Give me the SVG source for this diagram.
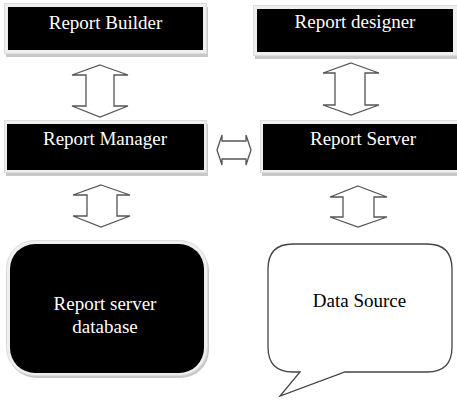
<svg xmlns="http://www.w3.org/2000/svg" width="457" height="400" viewBox="0 0 457 400">
<style>
.shadow{fill:#c8c8c8}
.frame{fill:#efefef;stroke:#dcdcdc;stroke-width:1}
.box{fill:#000}
.lbl{font-family:"Liberation Serif","Times New Roman",serif;font-size:19px;text-anchor:middle}
.w{fill:#fff}
.k{fill:#000}
.arr{fill:#fff;stroke:#555;stroke-width:1.3;stroke-linejoin:miter}
</style>
<rect width="457" height="400" fill="#fff"/>
<g id="report-builder">
<rect class="shadow" x="6" y="7" width="202" height="50"/>
<rect class="frame" x="4.5" y="3.5" width="202" height="50"/>
<rect class="box" x="8" y="7" width="195" height="43"/>
<text class="lbl w" x="105.5" y="29">Report Builder</text>
</g>
<g id="report-designer">
<rect class="shadow" x="255" y="9" width="204" height="50"/>
<rect class="frame" x="253.5" y="5.5" width="204" height="50"/>
<rect class="box" x="257" y="9" width="196" height="43"/>
<text class="lbl w" x="355" y="28">Report designer</text>
</g>
<g id="report-manager">
<rect class="shadow" x="6" y="124" width="202" height="52"/>
<rect class="frame" x="4.5" y="120.5" width="202" height="52"/>
<rect class="box" x="7" y="124" width="197" height="46"/>
<text class="lbl w" x="105" y="145">Report Manager</text>
</g>
<g id="report-server">
<rect class="shadow" x="262" y="124" width="200" height="52"/>
<rect class="frame" x="260.5" y="120.5" width="200" height="52"/>
<rect class="box" x="263" y="124" width="196" height="46"/>
<text class="lbl w" x="363" y="145">Report Server</text>
</g>
<g id="report-server-database">
<rect class="shadow" x="8" y="243" width="201" height="135" rx="28"/>
<rect class="frame" x="6.5" y="240.5" width="201" height="135" rx="28"/>
<rect class="box" x="10" y="244" width="194" height="129" rx="25"/>
<text class="lbl w" x="105" y="310">Report server</text>
<text class="lbl w" x="105" y="333">database</text>
</g>
<g id="data-source">
<path d="M293,244 H427 Q452,244 452,269 V347 Q452,372 427,372 H345 L280,396 L300,372 H293 Q268,372 268,347 V269 Q268,244 293,244 Z" fill="#fff" stroke="#444" stroke-width="1.3"/>
<text class="lbl k" x="359.5" y="307">Data Source</text>
</g>
<g id="connectors">
<path class="arr" d="M100,65 L128,75 H114 V106 H128 L100,117 L72,106 H86 V75 H72 Z"/>
<path class="arr" d="M351,63 L379,73 H365 V105 H379 L351,115 L323,105 H335 V73 H323 Z"/>
<path class="arr" d="M101,185 L130,195 H117 V216 H130 L101,227 L73,216 H87 V195 H73 Z"/>
<path class="arr" d="M358,186 L387,197 H374 V217 H387 L358,227 L330,217 H343 V197 H330 Z"/>
<path class="arr" d="M217,150 L222,135 V141 H246 V135 L251,150 L246,165 V159 H222 V165 Z"/>
</g>
</svg>
